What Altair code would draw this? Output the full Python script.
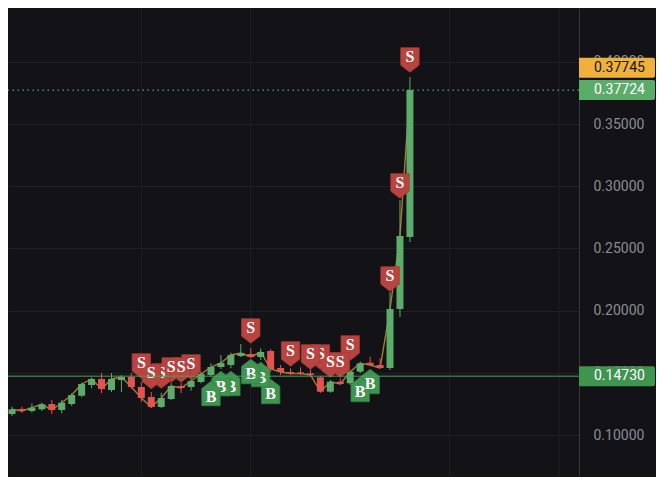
import altair as alt
import pandas as pd

# ---- candle data (index, OHLC) ----
idx = list(range(41))
opens = [0.11688, 0.12090, 0.11929, 0.12066, 0.12492, 0.12010, 0.12492, 0.13159, 0.14019, 0.14502,
         0.13617, 0.14421, 0.14662, 0.13859, 0.13055, 0.12251, 0.12894, 0.13939, 0.13859, 0.14260,
         0.14823, 0.15466, 0.15627, 0.16350, 0.16511, 0.16270, 0.16752, 0.15386, 0.15064, 0.15040,
         0.14960, 0.14638, 0.13481, 0.14285, 0.14156, 0.15088, 0.15812, 0.15627, 0.15386, 0.20129,
         0.25916]
closes = [0.12066, 0.11929, 0.12195, 0.12468, 0.12010, 0.12596, 0.13215, 0.14100, 0.14502, 0.13698,
          0.14502, 0.14662, 0.13859, 0.12974, 0.12251, 0.12974, 0.13939, 0.13778, 0.14341, 0.14904,
          0.15466, 0.15788, 0.16431, 0.16592, 0.16270, 0.16672, 0.15305, 0.15064, 0.14944, 0.14936,
          0.14823, 0.13481, 0.14285, 0.14100, 0.15088, 0.15764, 0.15627, 0.15386, 0.20129, 0.25997,
          0.37724]
highs = [0.12275, 0.12275, 0.12548, 0.12596, 0.12814, 0.12814, 0.13352, 0.14204, 0.14638, 0.14984,
         0.14984, 0.14823, 0.14984, 0.14260, 0.13457, 0.13400, 0.14180, 0.14180, 0.14502, 0.15088,
         0.15764, 0.16431, 0.16616, 0.17315, 0.16994, 0.16970, 0.16913, 0.15627, 0.15362, 0.15442,
         0.15281, 0.14743, 0.14421, 0.14558, 0.15225, 0.15892, 0.16294, 0.16166, 0.21500, 0.28891,
         0.38778]
lows = [0.11527, 0.11793, 0.11793, 0.11929, 0.11688, 0.11744, 0.12331, 0.13031, 0.13754, 0.13376,
        0.13457, 0.13457, 0.13738, 0.12653, 0.12170, 0.12170, 0.12814, 0.13376, 0.13561, 0.14156,
        0.14687, 0.15305, 0.15362, 0.16270, 0.16230, 0.16029, 0.15064, 0.14823, 0.14823, 0.14823,
        0.14743, 0.13400, 0.13400, 0.14019, 0.14019, 0.14960, 0.15547, 0.15362, 0.15225, 0.19486,
        0.25514]

# ---- trade markers ----
sell_idx = [13, 14, 15, 16, 17, 18, 24, 28, 30, 31, 32, 33, 34, 38, 39, 40]
sell_pos = [0.15547, 0.14703, 0.14743, 0.15225, 0.15225, 0.15466, 0.18360, 0.16511, 0.16270, 0.16270,
            0.15627, 0.15627, 0.16994, 0.22540, 0.30016, 0.40145]
buy_idx = [20, 21, 22, 24, 25, 26, 35, 36]
buy_pos = [0.13336, 0.14140, 0.14140, 0.15105, 0.14863, 0.13497, 0.13658, 0.14301]
# markers whose letter is partly covered by the previous marker
covered = [("S", 15), ("S", 31), ("B", 21), ("B", 22), ("B", 25)]

# ---- time grid (candle index of vertical grid lines) ----
vgrid_idx = [13, 24, 44, 55]

# ---- price lines / labels ----
last_price = 0.37724
line_last = 0.37745
base_price = 0.14730
y_ticks = [0.10, 0.15, 0.20, 0.25, 0.30, 0.35, 0.40]

BG = "#121217"
GRID = "#1f1f24"
GREEN = "#5cac6c"
RED = "#e35450"

df = pd.DataFrame(dict(i=idx, open=opens, high=highs, low=lows, close=closes))
df["dir"] = ["up" if c >= o else "down" for o, c in zip(opens, closes)]

marks = pd.DataFrame(dict(i=sell_idx + buy_idx, p=sell_pos + buy_pos,
                          t=["S"] * len(sell_idx) + ["B"] * len(buy_idx)))
marks = marks.sort_values(["i", "t"], ascending=[False, True]).reset_index(drop=True)
marks["k"] = range(len(marks))
vgrid = pd.DataFrame(dict(i=vgrid_idx))

xs = alt.Scale(domain=[0.0988, 56.494], nice=False, zero=False)
ys = alt.Scale(domain=[0.06624, 0.44325], nice=False, zero=False)
yaxis = alt.Axis(orient="right", values=y_ticks, format=".5f", grid=True, gridColor=GRID,
                 domain=True, domainColor="#36363c", ticks=False, tickSize=0, labelPadding=14,
                 labelColor="#8d8d92", labelFontSize=14, labelFont="Roboto", title=None)

X = lambda f: alt.X(f, scale=xs, axis=None)
Y = lambda f: alt.Y(f, scale=ys, axis=yaxis)
Y2 = lambda f: alt.Y2(f)

color = alt.Color("dir:N", scale=alt.Scale(domain=["up", "down"], range=[GREEN, RED]), legend=None)

grid_v = alt.Chart(vgrid).mark_rule(color=GRID, strokeWidth=1).encode(x=X("i:Q"))

base = alt.Chart(df)
ma_line = base.mark_line(color="#ad7a2c", strokeWidth=1.4, clip=True).encode(x=X("i:Q"), y=Y("close:Q"))
wicks = base.mark_rule(strokeWidth=1, clip=True).encode(x=X("i:Q"), y=Y("low:Q"), y2=Y2("high:Q"), color=color)
bodies = base.mark_bar(size=7, clip=True).encode(x=X("i:Q"), y=Y("open:Q"), y2=Y2("close:Q"), color=color)

S_PATH = "M-1,-1.333L1,-1.333L1,0.556L0,1.333L-1,0.556Z"
B_PATH = "M0,-1.333L1,-0.556L1,1.333L-1,1.333L-1,-0.556Z"
style = {"S": (S_PATH, "#b9433f", "#a23a36", -3), "B": (B_PATH, "#3f9450", "#357f44", 3)}

mbase = alt.Chart(marks)


def shape_layer(k, t):
    path, fill, stroke, dy = style[t]
    return mbase.transform_filter(alt.datum.k == int(k)).mark_point(
        shape=path, size=340, filled=True, opacity=1, color=fill, stroke=stroke, strokeWidth=0.8
    ).encode(x=X("i:Q"), y=Y("p:Q"))


def text_layer(k, t):
    dy = style[t][3]
    return mbase.transform_filter(alt.datum.k == int(k)).mark_text(
        font="Liberation Serif", fontWeight="bold", fontSize=16, color="white", baseline="middle", dy=dy
    ).encode(x=X("i:Q"), y=Y("p:Q"), text="t:N")


shape_layers, late_texts = [], []
for k, t, i in zip(marks["k"], marks["t"], marks["i"]):
    shape_layers.append(shape_layer(k, t))
    if (t, int(i)) in covered:
        shape_layers.append(text_layer(k, t))
    else:
        late_texts.append(text_layer(k, t))

plines = pd.DataFrame(dict(p=[base_price]))
dlines = pd.DataFrame(dict(p=[last_price]))
base_rule = alt.Chart(plines).mark_rule(color="#46a456", strokeWidth=1).encode(y=Y("p:Q"))
last_rule = alt.Chart(dlines).mark_rule(color="#5aac6a", strokeWidth=1.2, strokeDash=[1.5, 3.5]).encode(y=Y("p:Q"))

lab = pd.DataFrame(dict(p=[last_price, base_price], t=[f"{last_price:.5f}", f"{base_price:.5f}"],
                        bg=["#5aac6a", "#3f9450"]))
lab_o = pd.DataFrame(dict(p=[line_last], t=[f"{line_last:.5f}"]))

lab_box = alt.Chart(lab).mark_rect(height=20, cornerRadiusTopRight=2, cornerRadiusBottomRight=2).encode(
    x=alt.value(571), x2=alt.value(647), y=Y("p:Q"), fill=alt.Color("bg:N", scale=None))
lab_text = alt.Chart(lab).mark_text(align="left", baseline="middle", fontSize=14, font="Roboto",
                                    color="white").encode(x=alt.value(586), y=Y("p:Q"), text="t:N")
labo_box = alt.Chart(lab_o).mark_rect(height=20, yOffset=-22, color="#f0b13a",
                                      cornerRadiusTopRight=2, cornerRadiusBottomRight=2).encode(
    x=alt.value(571), x2=alt.value(647), y=Y("p:Q"))
labo_text = alt.Chart(lab_o).mark_text(align="left", baseline="middle", fontSize=14, font="Roboto",
                                       color="#131313", dy=-22).encode(x=alt.value(586), y=Y("p:Q"), text="t:N")

chart = alt.layer(grid_v, ma_line, wicks, bodies, *shape_layers, *late_texts,
                  base_rule, last_rule, labo_box, labo_text, lab_box, lab_text).properties(
    width=571, height=469,
    autosize=alt.AutoSizeParams(type="none"),
    padding={"left": 0, "top": 0, "right": 77, "bottom": 0},
    background=BG,
).configure_view(stroke=None)

chart.save("out.html", embed_options={"renderer": "svg", "actions": False})
